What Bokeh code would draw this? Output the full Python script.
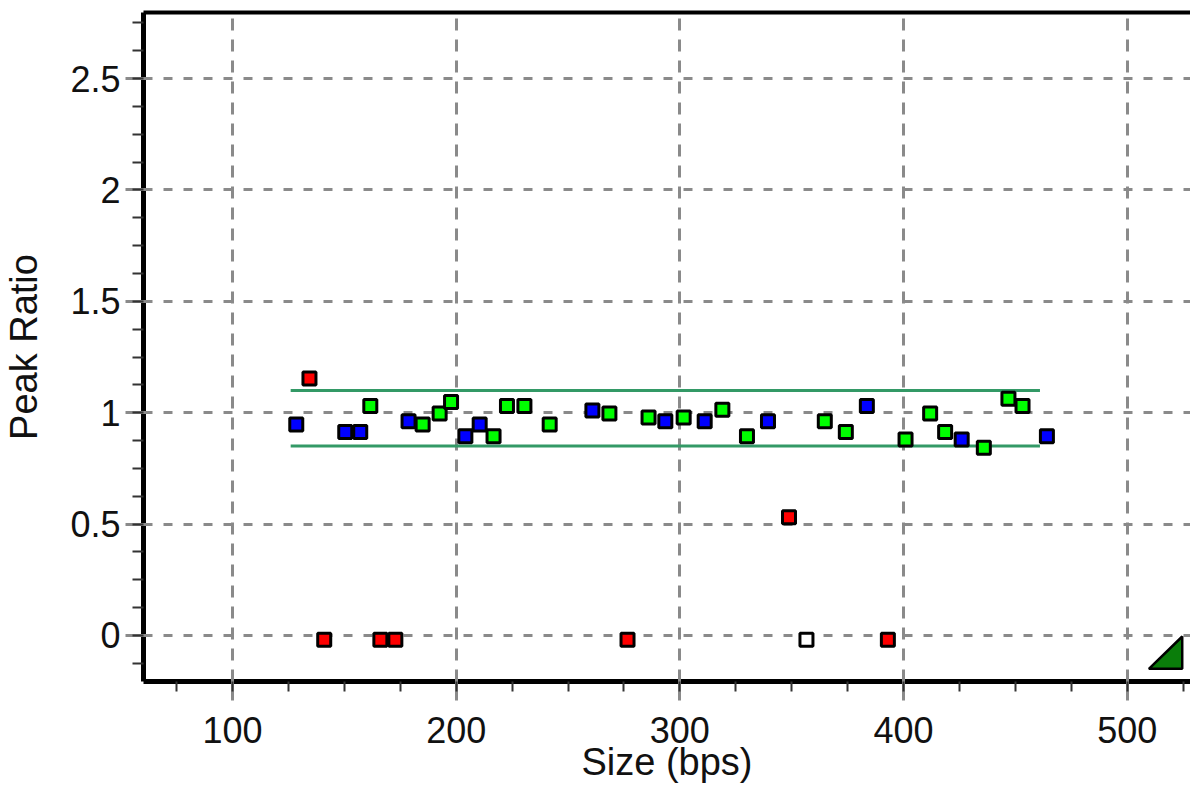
from bokeh.plotting import figure
from bokeh.models import Range1d, SingleIntervalTicker, LinearAxis, FixedTicker
from bokeh.embed import file_html
from bokeh.resources import INLINE

# ---- data ----
blue_x = [128.5, 150.4, 157.1, 178.7, 204.1, 210.5, 260.9, 293.5, 311.1, 339.4, 383.6, 426.0, 464.1]
blue_y = [0.947, 0.913, 0.913, 0.962, 0.894, 0.947, 1.010, 0.962, 0.962, 0.962, 1.030, 0.880, 0.894]

green_x = [161.6, 185.0, 192.6, 197.7, 216.7, 222.7, 230.5, 241.8, 268.5, 286.0, 301.7,
           319.0, 330.0, 364.8, 374.2, 400.9, 411.9, 418.6, 435.9, 446.9, 453.2]
green_y = [1.030, 0.947, 0.996, 1.048, 0.894, 1.030, 1.030, 0.947, 0.996, 0.978, 0.978,
           1.013, 0.894, 0.962, 0.913, 0.880, 0.996, 0.913, 0.843, 1.063, 1.030]

red_x = [134.4, 141.0, 166.1, 172.8, 276.6, 348.8, 393.0]
red_y = [1.153, -0.02, -0.02, -0.02, -0.02, 0.531, -0.02]

white_x = [356.6]
white_y = [-0.02]

band_x = [126.0, 461.0]
band_upper = [1.10, 1.10]
band_lower = [0.85, 0.85]

y_ticks = [0, 0.5, 1, 1.5, 2, 2.5]
y_tick_labels = ["0", "0.5", "1", "1.5", "2", "2.5"]

grip_x = [509.7, 524.6, 524.6]
grip_y = [-0.150, -0.005, -0.150]

x_label = "Size (bps)"
y_label = "Peak Ratio"

FONT = "Liberation Sans"
TEXT = "#111111"
GRID = "#8a8a8a"

p = figure(width=1190, height=791, output_backend="svg", toolbar_location=None,
           x_range=Range1d(60.2, 528.3), y_range=Range1d(-0.207, 2.797),
           min_border_left=143, min_border_right=0, min_border_top=12, min_border_bottom=110,
           x_axis_label=x_label, y_axis_label=y_label)
p.outline_line_color = None
p.background_fill_color = "white"
p.border_fill_color = "white"

# axes
p.xaxis.ticker = SingleIntervalTicker(interval=100, num_minor_ticks=4)
p.yaxis.ticker = FixedTicker(ticks=y_ticks,
                             minor_ticks=[i * 0.125 for i in range(-1, 23)])
p.yaxis.major_label_overrides = {t: l for t, l in zip(y_ticks, y_tick_labels)}

for ax in (p.xaxis[0], p.yaxis[0]):
    ax.axis_line_color = "black"
    ax.axis_line_width = 5
    ax.major_tick_line_color = GRID
    ax.major_tick_line_width = 3
    ax.minor_tick_line_color = "#333333"
    ax.minor_tick_line_width = 2
    ax.major_tick_in = 4
    ax.minor_tick_in = 0
    ax.major_label_text_font = FONT
    ax.major_label_text_font_size = "36px"
    ax.major_label_text_color = TEXT
    ax.axis_label_text_font = FONT
    ax.axis_label_text_font_size = "38px"
    ax.axis_label_text_font_style = "normal"
    ax.axis_label_text_color = TEXT

p.xaxis.major_tick_out = 19
p.xaxis.minor_tick_out = 10
p.xaxis.major_label_standoff = 16
p.xaxis.axis_label_standoff = -5

p.yaxis.major_tick_out = 18
p.yaxis.minor_tick_out = 11
p.yaxis.major_label_standoff = 5
p.yaxis.axis_label_standoff = 22

# top border as an empty axis
top = LinearAxis(ticker=FixedTicker(ticks=[]), axis_line_width=4, axis_line_color="black",
                 major_tick_line_color=None, minor_tick_line_color=None,
                 major_label_text_font_size="0px")
p.add_layout(top, "above")

# grid
p.xgrid.grid_line_color = GRID
p.xgrid.grid_line_width = 3
p.xgrid.grid_line_dash = "12 9"
p.ygrid.grid_line_color = GRID
p.ygrid.grid_line_width = 3
p.ygrid.grid_line_dash = "9 11"

# band lines
p.line(band_x, band_upper, line_color="#339966", line_width=3)
p.line(band_x, band_lower, line_color="#339966", line_width=3)

# points
common = dict(marker="square", size=13, line_color="black", line_width=3)
p.scatter(blue_x, blue_y, fill_color="#0000ff", **common)
p.scatter(green_x, green_y, fill_color="#00ff00", **common)
p.scatter(red_x, red_y, fill_color="#ff0000", **common)
p.scatter(white_x, white_y, fill_color="white", **common)

# grip triangle
p.patch(grip_x, grip_y, fill_color="#0a7d0a", line_color="black", line_width=2.5)

open("out.html", "w").write(file_html(p, INLINE))
